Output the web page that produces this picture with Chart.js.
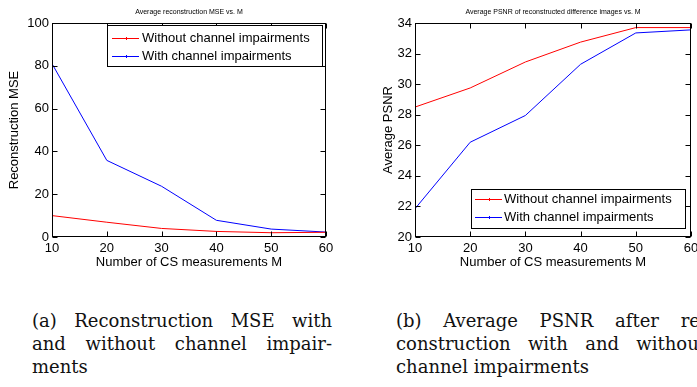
<!DOCTYPE html>
<html lang="en">
<head>
<meta charset="UTF-8">
<title>Reconstruction MSE and PSNR vs. M</title>
<script src="https://cdn.jsdelivr.net/npm/chart.js@4.4.1/dist/chart.umd.min.js"></script>
<style>
    html, body { margin: 0; padding: 0; background: #fff; width: 697px; height: 387px; overflow: hidden; }
    .plot { position: absolute; top: 0; }
    .caption { position: absolute; font-family: "DejaVu Serif", serif; font-size: 18px; line-height: 23px; color: #111; }
    .caption div { text-align: justify; text-align-last: justify; }
    .caption div.last { text-align: left; text-align-last: left; }
</style>
</head>
<body>
    <!-- (a) MSE -->
    <canvas id="mseChart" class="plot" width="345" height="280" style="left:0px"></canvas>
    <!-- (b) PSNR, wider than the window so the right edge gets cut like the scan -->
    <canvas id="psnrChart" class="plot" width="360" height="280" style="left:360px"></canvas>

    <div class="caption" style="left:32px; top:309px; width:300px">
        <div>(a) Reconstruction MSE with</div>
        <div>and without channel impair-</div>
        <div class="last">ments</div>
    </div>
    <div class="caption" style="left:396px; top:309px; width:310px">
        <div>(b) Average PSNR after re-</div>
        <div>construction with and without</div>
        <div class="last">channel impairments</div>
    </div>

<script>
    // data
    const measurementsM = [10, 20, 30, 40, 50, 60];
    const seriesLabels = ['Without channel impairments', 'With channel impairments'];
    const seriesColors = ['#ff0000', '#0000ff'];
    const mseWithout = [10.0, 6.9, 4.0, 2.6, 2.0, 2.2];
    const mseWith = [81.0, 35.8, 23.7, 7.8, 3.7, 2.3];
    const psnrWithout = [28.5, 29.75, 31.45, 32.75, 33.7, 33.7];
    const psnrWith = [21.85, 26.2, 27.95, 31.3, 33.35, 33.55];
    const mseTicks = [0, 20, 40, 60, 80, 100];
    const psnrTicks = [20, 22, 24, 26, 28, 30, 32, 34];
    const xTicks = [10, 20, 30, 40, 50, 60];

    const FONT = '"Liberation Sans", Arial, Helvetica, sans-serif';

    function toPoints(values) {
        return measurementsM.map((m, i) => ({x: m, y: values[i]}));
    }

    // matlab-ish box, inward ticks, small title and boxed legend
    const matlabFrame = {
        id: 'matlabFrame',
        afterDraw(chart, args, opts) {
            const {ctx, chartArea: a, scales: {x, y}} = chart;
            const L = Math.round(a.left) + 0.5, R = Math.round(a.right) - 0.5;
            const T = Math.round(a.top) + 0.5, B = Math.round(a.bottom) - 0.5;
            ctx.save();
            ctx.strokeStyle = '#000';
            ctx.lineWidth = 1;
            ctx.strokeRect(L, T, R - L, B - T);

            ctx.beginPath();
            x.ticks.forEach(t => {
                const px = Math.round(x.getPixelForValue(t.value)) + 0.5;
                ctx.moveTo(px, B); ctx.lineTo(px, B - 5);
                ctx.moveTo(px, T); ctx.lineTo(px, T + 5);
            });
            y.ticks.forEach(t => {
                const py = Math.round(y.getPixelForValue(t.value)) + 0.5;
                ctx.moveTo(L, py); ctx.lineTo(L + 5, py);
                ctx.moveTo(R, py); ctx.lineTo(R - 5, py);
            });
            ctx.stroke();

            // title
            ctx.fillStyle = '#000';
            ctx.font = '7px ' + FONT;
            ctx.textAlign = 'center';
            ctx.textBaseline = 'middle';
            ctx.fillText(opts.title, (a.left + a.right) / 2, 12);

            // legend
            const lg = opts.legend;
            ctx.fillStyle = '#fff';
            ctx.fillRect(lg.x, lg.y, lg.w, lg.h);
            ctx.strokeStyle = '#000';
            ctx.strokeRect(lg.x + 0.5, lg.y + 0.5, lg.w, lg.h);
            ctx.font = '13px ' + FONT;
            ctx.textAlign = 'left';
            chart.data.datasets.forEach((ds, i) => {
                const ry = Math.round(lg.y + lg.rows[i]);
                const x0 = lg.x + lg.line[0], x1 = lg.x + lg.line[1];
                ctx.fillStyle = seriesColors[i];
                ctx.fillRect(x0, ry, x1 - x0, 1);
                // small centre marker, as in the matlab legend
                ctx.fillRect(Math.round((x0 + x1) / 2), ry - 1, 1, 3);
                ctx.fillStyle = '#000';
                ctx.fillText(ds.label, lg.x + lg.text, ry + 0.5);
            });
            ctx.restore();
        }
    };

    function makeChart(id, a, b, yTicks, yTitle, title, yWidth, padRight, yTitlePad, legend) {
        return new Chart(document.getElementById(id), {
            type: 'line',
            data: {
                datasets: [
                    {label: seriesLabels[0], data: toPoints(a), borderColor: seriesColors[0], borderWidth: 1, pointRadius: 0, tension: 0},
                    {label: seriesLabels[1], data: toPoints(b), borderColor: seriesColors[1], borderWidth: 1, pointRadius: 0, tension: 0}
                ]
            },
            options: {
                responsive: false,
                animation: false,
                layout: {padding: {top: 23, right: padRight, left: 0, bottom: 0}},
                plugins: {
                    legend: {display: false},
                    tooltip: {enabled: false},
                    matlabFrame: {title: title, legend: legend}
                },
                scales: {
                    x: {
                        type: 'linear',
                        min: xTicks[0],
                        max: xTicks[xTicks.length - 1],
                        afterBuildTicks: s => { s.ticks = xTicks.map(v => ({value: v})); },
                        afterFit: s => { s.height = 43; },
                        grid: {display: false, drawTicks: false},
                        border: {display: false},
                        ticks: {color: '#000', padding: 4, maxRotation: 0, font: {family: FONT, size: 13}},
                        title: {display: true, text: 'Number of CS measurements M', color: '#000', padding: 10, font: {family: FONT, size: 13}}
                    },
                    y: {
                        min: yTicks[0],
                        max: yTicks[yTicks.length - 1],
                        afterBuildTicks: s => { s.ticks = yTicks.map(v => ({value: v})); },
                        afterFit: s => { s.width = yWidth; },
                        grid: {display: false, drawTicks: false},
                        border: {display: false},
                        ticks: {color: '#000', padding: 3, font: {family: FONT, size: 13}},
                        title: {display: true, text: yTitle, color: '#000', padding: yTitlePad, font: {family: FONT, size: 13}}
                    }
                }
            },
            plugins: [matlabFrame]
        });
    }

    makeChart('mseChart', mseWithout, mseWith, mseTicks, 'Reconstruction MSE',
        'Average reconstruction MSE vs. M', 52, 19, 7,
        {x: 107, y: 25, w: 215, h: 41, rows: [13, 31], line: [5, 32], text: 35});

    makeChart('psnrChart', psnrWithout, psnrWith, psnrTicks, 'Average PSNR',
        'Average PSNR of reconstructed difference images vs. M', 55, 29, 21,
        {x: 111, y: 189, w: 214, h: 39, rows: [10, 28], line: [4, 31], text: 33});
</script>
</body>
</html>
